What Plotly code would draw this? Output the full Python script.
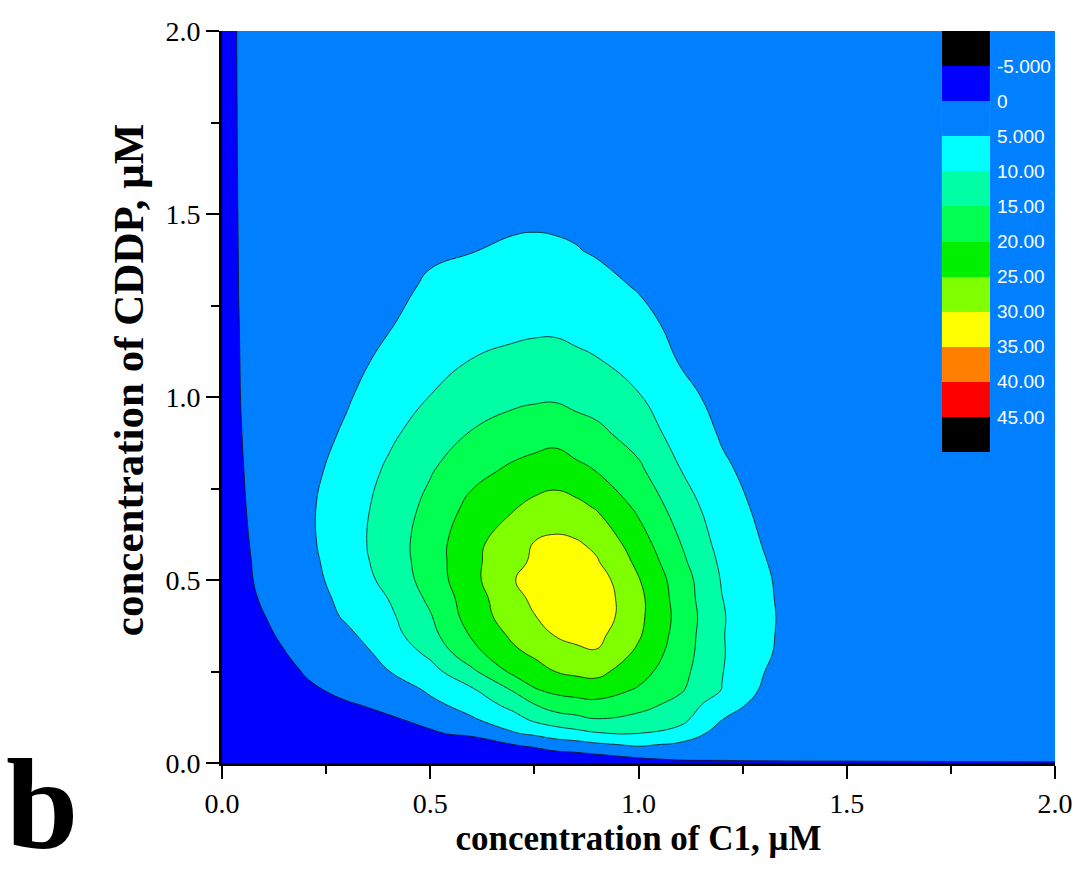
import plotly.graph_objects as go

# ---------------- data ----------------
# grid of concentrations
x_c1 = [0, 0.02, 0.04, 0.07, 0.1, 0.15, 0.2, 0.3, 0.4, 0.5, 0.6, 0.7, 0.75, 0.8, 0.85,
        0.9, 1.0, 1.1, 1.2, 1.3, 1.4, 1.6, 2.0]
y_cddp = [0, 0.01, 0.03, 0.05, 0.08, 0.12, 0.16, 0.2, 0.25, 0.3, 0.35, 0.4, 0.45, 0.5,
          0.55, 0.6, 0.7, 0.8, 0.9, 1.0, 1.1, 1.2, 1.3, 1.4, 1.5, 1.7, 2.0]

# response values, one list per C1 concentration (values along y_cddp)
z_x000 = [-3, -3, -3, -3, -3, -3, -3, -3, -3, -3, -3, -3, -3, -3, -3, -3, -3, -3, -3, -3, -3, -3, -3, -3, -3, -3, -3]
z_x002 = [-3, -3, -3, -3, -3, -2.95, -2.9, -2.85, -2.8, -2.7, -2.65, -2.6, -2.55, -2.5, -2.45, -2.4, -2.3, -2.2, -2.1, -2.0, -1.9, -1.8, -1.7, -1.6, -1.5, -1.5, -1.5]
z_x004 = [-3, -3, -2.9, -2.8, -2.7, -2.6, -2.5, -2.4, -2.2, -2.0, -1.8, -1.6, -1.4, -1.2, -1.05, -0.9, -0.6, -0.4, -0.25, -0.15, -0.1, -0.05, 0.02, 0.08, 0.15, 0.3, 0.45]
z_x007 = [-3, -2.9, -2.8, -2.7, -2.5, -2.3, -2.0, -1.7, -1.4, -1.1, -0.85, -0.6, -0.4, -0.2, -0.03, 0.15, 0.4, 0.55, 0.7, 0.85, 0.9, 0.95, 1.0, 1.05, 1.1, 1.15, 1.2]
z_x010 = [-3, -2.9, -2.7, -2.5, -2.2, -1.9, -1.6, -1.3, -1.0, -0.7, -0.4, -0.1, 0.35, 1.0, 1.3, 1.6, 2.0, 2.1, 2.0, 1.9, 1.8, 1.7, 1.65, 1.6, 1.6, 1.6, 1.6]
z_x015 = [-3, -2.9, -2.7, -2.5, -2.2, -1.8, -1.4, -1.0, -0.55, -0.08, 0.35, 0.9, 1.35, 1.8, 2.2, 2.6, 3.0, 2.8, 2.5, 2.3, 2.1, 2.0, 1.9, 1.8, 1.75, 1.7, 1.7]
z_x020 = [-3, -2.8, -2.5, -2.2, -1.8, -1.3, -0.8, -0.36, 0.14, 0.7, 1.3, 1.9, 2.55, 3.2, 3.55, 3.9, 4.1, 3.5, 3.0, 2.7, 2.5, 2.3, 2.2, 2.1, 2.0, 1.9, 1.8]
z_x030 = [-3, -2.7, -2.2, -1.8, -1.3, -0.7, -0.16, 0.48, 1.5, 2.6, 4.1, 5.66, 6.4, 7.1, 7.6, 7.9, 7.6, 6.9, 5.6, 4.6, 3.8, 3.3, 2.9, 2.6, 2.4, 2.2, 2.0]
z_x040 = [-3, -2.6, -2.0, -1.5, -0.9, -0.18, 0.41, 1.9, 4.9, 6.5, 8.0, 9.0, 10.1, 11.3, 12.0, 12.3, 11.9, 10.7, 9.1, 7.4, 5.9, 4.7, 4.0, 3.4, 3.0, 2.5, 2.2]
z_x050 = [-3, -2.5, -1.7, -1.1, -0.19, 0.4, 3.8, 5.8, 8.3, 11.0, 13.5, 14.6, 16.0, 17.2, 17.5, 17.5, 16.3, 14.6, 12.3, 10.1, 8.3, 6.7, 5.5, 4.5, 3.8, 3.0, 2.4]
z_x060 = [-3, -2.3, -1.4, -0.9, 0.3, 4.5, 7.0, 9.4, 14.0, 18.4, 20.5, 22.3, 22.7, 23.6, 23.7, 23.6, 21.4, 18.4, 15.3, 12.7, 10.1, 8.3, 6.6, 4.9, 4.0, 3.1, 2.5]
z_x070 = [-3, -2.2, -1.2, -0.02, 4.5, 8.2, 11.7, 15.5, 21.2, 24.0, 26.0, 27.6, 28.5, 29.8, 28.9, 28.0, 24.6, 20.9, 17.2, 13.9, 11.0, 8.9, 7.2, 5.5, 4.3, 3.2, 2.5]
z_x075 = [-3, -2.1, -0.8, 0.5, 5.8, 11.0, 14.9, 19.6, 23.0, 25.8, 28.1, 29.8, 31.0, 31.7, 30.6, 30.2, 26.3, 21.8, 17.9, 14.3, 11.4, 9.1, 7.4, 5.7, 4.3, 3.2, 2.5]
z_x080 = [-3, -2.0, -0.4, 2.4, 7.3, 12.7, 17.4, 21.2, 25.0, 27.7, 30.2, 32.3, 33.3, 33.9, 32.6, 31.0, 27.0, 22.6, 18.3, 14.4, 11.5, 9.1, 7.4, 5.7, 4.0, 3.2, 2.5]
z_x085 = [-3, -1.9, 0.1, 3.1, 8.4, 13.8, 18.2, 22.0, 26.0, 29.1, 31.0, 32.9, 33.9, 33.6, 32.4, 30.5, 26.3, 21.2, 17.1, 13.6, 10.8, 8.7, 6.9, 5.2, 4.0, 3.05, 2.45]
z_x090 = [-3, -1.8, 0.8, 4.2, 9.5, 14.9, 18.7, 22.4, 26.4, 29.6, 31.3, 33.0, 33.0, 32.4, 30.4, 29.0, 24.5, 19.8, 16.1, 13.0, 10.2, 8.3, 6.4, 4.6, 3.7, 2.9, 2.4]
z_x100 = [-3, -0.6, 2.3, 5.7, 9.9, 13.7, 16.7, 19.5, 21.9, 24.0, 25.6, 26.2, 26.3, 25.3, 23.9, 22.3, 19.0, 15.9, 13.0, 10.3, 8.3, 6.4, 4.7, 3.8, 3.3, 2.7, 2.3]
z_x110 = [-1.5, 0.4, 2.3, 4.1, 8.2, 11.4, 13.5, 15.6, 16.6, 17.4, 17.9, 18.3, 17.8, 17.5, 16.2, 15.1, 12.7, 10.1, 7.8, 6.5, 4.7, 3.7, 3.2, 2.9, 2.7, 2.4, 2.2]
z_x120 = [-1.2, 0.5, 1.4, 2.3, 2.8, 5.1, 6.8, 9.9, 10.2, 10.4, 10.3, 10.4, 10.1, 9.7, 9.1, 8.3, 7.0, 5.7, 4.6, 3.5, 3.2, 2.8, 2.6, 2.4, 2.3, 2.2, 2.1]
z_x130 = [-1.0, 0.7, 1.3, 1.8, 2.4, 3.0, 3.7, 4.3, 5.1, 5.7, 6.0, 6.2, 6.0, 5.8, 5.3, 4.8, 4.0, 3.4, 3.0, 2.7, 2.5, 2.4, 2.3, 2.2, 2.2, 2.1, 2.0]
z_x140 = [-0.9, 0.8, 1.2, 1.5, 1.8, 2.0, 2.1, 2.3, 2.5, 2.5, 2.35, 2.2, 2.1, 2.0, 2.0, 2.0, 2.0, 2.0, 2.0, 2.0, 2.0, 2.0, 2.0, 2.0, 2.0, 2.0, 2.0]
z_x160 = [-0.8, 0.9, 1.3, 1.6, 1.8, 1.9, 2.0, 2.0, 2.0, 2.0, 2.0, 2.0, 2.0, 2.0, 2.0, 2.0, 2.0, 2.0, 2.0, 2.0, 2.0, 2.0, 2.0, 2.0, 2.0, 2.0, 2.0]
z_x200 = [-0.5, 1.0, 1.4, 1.6, 1.8, 1.9, 2.0, 2.0, 2.0, 2.0, 2.0, 2.0, 2.0, 2.0, 2.0, 2.0, 2.0, 2.0, 2.0, 2.0, 2.0, 2.0, 2.0, 2.0, 2.0, 2.0, 2.0]

# contour levels and band colours (band below -10 ... band above 45)
level_start = -10
level_end = 45
level_step = 5
band_colors = ["#000000", "#000000", "#0000FF", "#0080FF", "#00FFFF", "#00FFA5",
               "#00FF50", "#00F000", "#80FF00", "#FFFF00", "#FF8000", "#FF0000", "#000000"]

# legend blocks (top to bottom) and boundary labels
legend_block_values = [-7.5, -2.5, 2.5, 7.5, 12.5, 17.5, 22.5, 27.5, 32.5, 37.5, 42.5, 47.5]
legend_labels = ["-5.000", "0", "5.000", "10.00", "15.00", "20.00", "25.00",
                 "30.00", "35.00", "40.00", "45.00"]

x_title = "concentration of C1, \u03bcM"
y_title = "concentration of CDDP, \u03bcM"
panel_letter = "b"

# ---------------- figure ----------------
columns = [z_x000, z_x002, z_x004, z_x007, z_x010, z_x015, z_x020, z_x030, z_x040,
           z_x050, z_x060, z_x070, z_x075, z_x080, z_x085, z_x090, z_x100, z_x110,
           z_x120, z_x130, z_x140, z_x160, z_x200]
z_grid = [list(row) for row in zip(*columns)]

n_bands = len(band_colors) - 1
colorscale = [[i / n_bands, c] for i, c in enumerate(band_colors)]

fig = go.Figure()
fig.add_trace(go.Contour(
    x=x_c1, y=y_cddp, z=z_grid,
    autocontour=False,
    contours=dict(start=level_start, end=level_end, size=level_step,
                  coloring="fill", showlines=True),
    line=dict(color="#111111", width=0.8, smoothing=1.3),
    colorscale=colorscale,
    showscale=False,
    hoverinfo="skip",
))

half = level_step / 2
fig.add_trace(go.Heatmap(
    x=[0], y=list(range(len(legend_block_values))),
    z=[[v] for v in legend_block_values],
    colorscale=colorscale,
    zmin=level_start - half, zmax=level_end + half,
    showscale=False, hoverinfo="skip",
    xaxis="x2", yaxis="y2",
))

serif = "Liberation Serif, Times New Roman, serif"
axis_common = dict(
    range=[0, 2], tick0=0, dtick=0.5, tickformat=".1f",
    ticks="outside", ticklen=13, tickwidth=2, tickcolor="black",
    showline=True, linewidth=3, linecolor="black",
    showgrid=False, zeroline=False, automargin=False,
    tickfont=dict(family=serif, size=28, color="black"),
    minor=dict(dtick=0.25, tick0=0, ticks="outside", ticklen=8,
               tickwidth=2, tickcolor="black", showgrid=False),
)

fig.update_layout(
    width=1075, height=880,
    margin=dict(l=222, r=20, t=31, b=117),
    paper_bgcolor="white", plot_bgcolor="white",
    showlegend=False,
    xaxis=dict(**axis_common,
               title=dict(text="<b>" + x_title + "</b>",
                          font=dict(family=serif, size=35, color="black"),
                          standoff=4)),
    yaxis=dict(**axis_common),
    xaxis2=dict(domain=[0.8643, 0.9220], anchor="y2", range=[-0.5, 0.5],
                visible=False, fixedrange=True, automargin=False),
    yaxis2=dict(domain=[0.4249, 1.0], anchor="x2",
                range=[len(legend_block_values) - 0.5, -0.5],
                side="right", tickmode="array",
                tickvals=[i + 0.5 for i in range(len(legend_labels))],
                ticktext=legend_labels, automargin=False,
                ticks="", showline=False, showgrid=False, zeroline=False,
                ticklabelstandoff=6,
                tickfont=dict(family="Liberation Sans, Arial, sans-serif",
                              size=19, color="white")),
)

# y-axis title (rotated text placed beside the axis)
fig.add_annotation(
    text="<b>" + y_title + "</b>", showarrow=False, textangle=-90,
    xref="paper", yref="paper", x=-0.1128, y=0.523,
    xanchor="center", yanchor="middle",
    font=dict(family=serif, size=43, color="black"),
)

fig.add_annotation(
    text="<b>" + panel_letter + "</b>", showarrow=False,
    xref="paper", yref="paper", x=-0.2617, y=-0.1571,
    xanchor="left", yanchor="bottom",
    font=dict(family=serif, size=130, color="black"),
)

fig.write_html("out.html")
